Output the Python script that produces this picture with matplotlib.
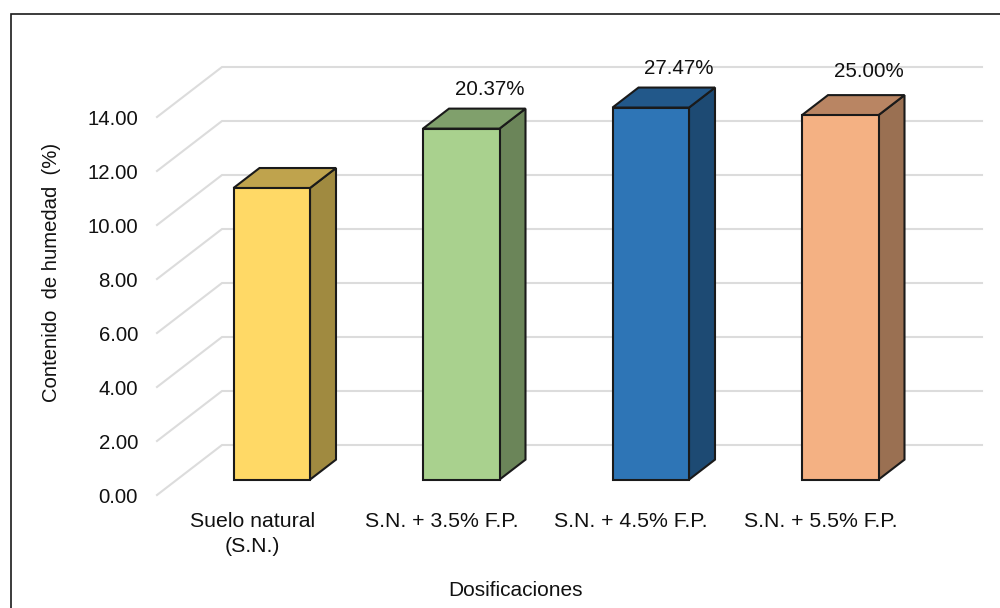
import matplotlib
matplotlib.use('Agg')
import matplotlib.pyplot as plt
from matplotlib.lines import Line2D
from matplotlib.patches import Polygon

plt.rcParams['font.family'] = ['Liberation Sans', 'DejaVu Sans']

categories = ['Suelo natural\n(S.N.)', 'S.N. + 3.5% F.P.', 'S.N. + 4.5% F.P.', 'S.N. + 5.5% F.P.']
humedad = [10.8, 13.0, 13.78, 13.5]
etiquetas = ['', '20.37%', '27.47%', '25.00%']
yticks = [0, 2, 4, 6, 8, 10, 12, 14]
front_colors = ['#FFD966', '#A9D18E', '#2E75B6', '#F4B183']
top_colors = ['#BFA34D', '#80A06C', '#22588A', '#B98563']
side_colors = ['#A08A40', '#6B8559', '#1D4A73', '#9A7052']

# depth of the 3D box in data units
depth_x = 65 / 189.5
depth_y = 50 / 27.0
bar_w = 76.5 / 189.5
bar_start = 20 / 65.0
bar_depth = 26 / 65.0
label_gap = [0.7, 0.7, 0.7, 0.88]

fig = plt.figure(figsize=(10, 6.08), dpi=100)
# only the left and top edges of the chart frame fall inside the figure
fig.add_artist(Line2D([10.5 / 1000, 10.5 / 1000, 1], [0, 1 - 13.5 / 608, 1 - 13.5 / 608], transform=fig.transFigure,
                      color='#1a1a1a', lw=1.2, solid_joinstyle='miter'))

ax = fig.add_axes([157 / 1000, (608 - 495) / 608, (982 - 157) / 1000, (495 - 68) / 608])
ax.set_xlim(-0.5, -0.5 + 825 / 189.5)
ax.set_ylim(0, 427 / 27.0)
ax.axis('off')

x_left = -0.5
x_right = -0.5 + 825 / 189.5
for v in yticks:
    ax.plot([x_left, x_left + depth_x, x_right], [v, v + depth_y, v + depth_y],
            color='#dcdcdc', lw=1.5, zorder=1, clip_on=False, solid_joinstyle='miter')
    ax.text(x_left - 19 / 189.5, v - 0.09, '%.2f' % v, ha='right', va='center', fontsize=14.7, color='#111111')

for i, v in enumerate(humedad):
    x0 = i - bar_w / 2
    x1 = i + bar_w / 2
    dx0 = depth_x * bar_start
    dy0 = depth_y * bar_start
    dx = depth_x * bar_depth
    dy = depth_y * bar_depth
    front = [(x0 + dx0, dy0), (x1 + dx0, dy0), (x1 + dx0, v + dy0), (x0 + dx0, v + dy0)]
    side = [(x1 + dx0, dy0), (x1 + dx0 + dx, dy0 + dy), (x1 + dx0 + dx, v + dy0 + dy), (x1 + dx0, v + dy0)]
    top = [(x0 + dx0, v + dy0), (x1 + dx0, v + dy0), (x1 + dx0 + dx, v + dy0 + dy), (x0 + dx0 + dx, v + dy0 + dy)]
    for pts, c in [(side, side_colors[i]), (top, top_colors[i]), (front, front_colors[i])]:
        ax.add_patch(Polygon(pts, closed=True, fc=c, ec='#1a1a1a', lw=1.5, zorder=3, joinstyle='miter'))
    if etiquetas[i]:
        ax.text(i + dx0 + dx + 0.012, v + dy0 + dy + label_gap[i], etiquetas[i], ha='center', va='center',
                fontsize=14.8, color='#111111', zorder=4)
    ax.text(i - 19.5 / 189.5 + dx0, -0.63, categories[i], ha='center', va='top', fontsize=15.3,
            color='#111111', linespacing=1.4)

fig.text(516 / 1000, 1 - 590 / 608, 'Dosificaciones', ha='center', va='center', fontsize=15, color='#111111')
fig.text(52 / 1000, 1 - 272.5 / 608, 'Contenido  de humedad  (%)', ha='center', va='center', rotation=90,
         fontsize=14.6, color='#111111')

fig.savefig('out.png', dpi=100)
